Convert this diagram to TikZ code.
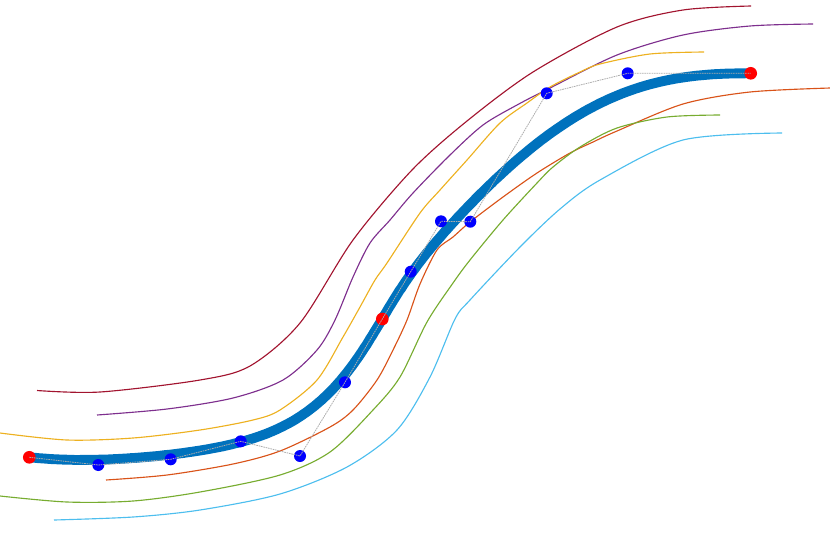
\documentclass[tikz,border=0pt]{standalone}
\definecolor{mblue}{RGB}{0,114,189}
\definecolor{morange}{RGB}{217,83,25}
\definecolor{myellow}{RGB}{237,177,32}
\definecolor{mpurple}{RGB}{126,47,142}
\definecolor{mgreen}{RGB}{119,172,48}
\definecolor{mcyan}{RGB}{77,190,238}
\definecolor{mred}{RGB}{162,20,47}
\newcommand\myBezSix[7]{((1-\myt)^6*(#1)+6*(1-\myt)^5*\myt*(#2)+15*(1-\myt)^4*\myt^2*(#3)+20*(1-\myt)^3*\myt^3*(#4)+15*(1-\myt)^2*\myt^4*(#5)+6*(1-\myt)*\myt^5*(#6)+\myt^6*(#7))}
\tikzset{
  offc/.style={line width=0.85pt},
  mainc/.style={mblue, line width=7.4pt},
  ctrlpoly/.style={gray!65, line width=0.6pt, dash pattern=on 1.2pt off 0.6pt},
  bdot/.style={circle, fill=blue, inner sep=0pt, minimum size=9pt},
  rdot/.style={circle, fill=red, inner sep=0pt, minimum size=9.5pt}
}
\begin{document}
\begin{tikzpicture}[x=0.75pt,y=-0.75pt]
\useasboundingbox (0,0) rectangle (830,554);
% offset curves
\draw[offc, mred] plot[smooth] coordinates {(37,390.5) (100,392) (200,380) (250,366) (300,323) (353,240) (412,170) (467,121) (533,72) (617,27) (683,10) (751,6)};
\draw[offc, mpurple] plot[smooth] coordinates {(97,415) (167,409) (233,398) (283,380) (317,350) (335,320) (353,277) (370,243) (390,220) (413,193) (450,155) (483,125) (517,105) (550,88) (617,55) (683,35) (750,26) (813,24)};
\draw[offc, myellow] plot[smooth] coordinates {(0,433) (67,440) (133,438) (200,430) (253,420) (280,410) (317,380) (343,337) (360,307) (375,280) (387,263) (420,213) (440,190) (467,160) (500,123) (527,103) (550,87) (580,72) (600,64) (650,54) (704,52)};
\draw[offc, morange] plot[smooth] coordinates {(106,480) (167,475) (233,464) (280,451) (330,427) (353,410) (377,380) (393,350) (407,320) (420,284) (437,250) (453,237) (470,222) (503,197) (537,173) (570,153) (593,142) (617,131) (683,104) (750,92) (830,88)};
\draw[offc, mgreen] plot[smooth] coordinates {(0,496) (67,502) (133,501) (200,492) (280,475) (330,452) (373,410) (400,377) (427,322) (453,283) (470,260) (503,220) (537,183) (553,167) (580,147) (617,128) (667,117) (720,115)};
\draw[offc, mcyan] plot[smooth] coordinates {(54,520) (133,517) (200,510) (280,494) (347,467) (397,430) (430,377) (455,319) (470,300) (520,247) (560,209) (600,180) (683,140) (782,133)};
% main curve (two degree-6 Bezier pieces)
\draw[mainc] plot[domain=0:1, samples=120, variable=\myt]
  ({\myBezSix{29.3}{98.3}{170.7}{240.7}{300}{345}{382.3}},
   {\myBezSix{457.3}{465}{459.3}{441.3}{456}{382.3}{319}});
\draw[mainc] plot[domain=0:1, samples=120, variable=\myt]
  ({\myBezSix{382.3}{410.7}{441}{470.3}{546.7}{627.7}{750.7}},
   {\myBezSix{319}{271.7}{221.3}{221.7}{93.3}{73.3}{73.3}});
% control points
\node[rdot] (p0) at (29.3,457.3) {};
\node[bdot] (p1) at (98.3,465) {};
\node[bdot] (p2) at (170.7,459.3) {};
\node[bdot] (p3) at (240.7,441.3) {};
\node[bdot] (p4) at (300,456) {};
\node[bdot] (p5) at (345,382.3) {};
\node[rdot] (p6) at (382.3,319) {};
\node[bdot] (q1) at (410.7,271.7) {};
\node[bdot] (q2) at (441,221.3) {};
\node[bdot] (q3) at (470.3,221.7) {};
\node[bdot] (q4) at (546.7,93.3) {};
\node[bdot] (q5) at (627.7,73.3) {};
\node[rdot] (q6) at (750.7,73.3) {};
\draw[ctrlpoly] (p0.center) -- (p1.center) -- (p2.center) -- (p3.center) -- (p4.center) -- (p5.center) -- (p6.center) -- (q1.center) -- (q2.center) -- (q3.center) -- (q4.center) -- (q5.center) -- (q6.center);
\end{tikzpicture}
\end{document}
